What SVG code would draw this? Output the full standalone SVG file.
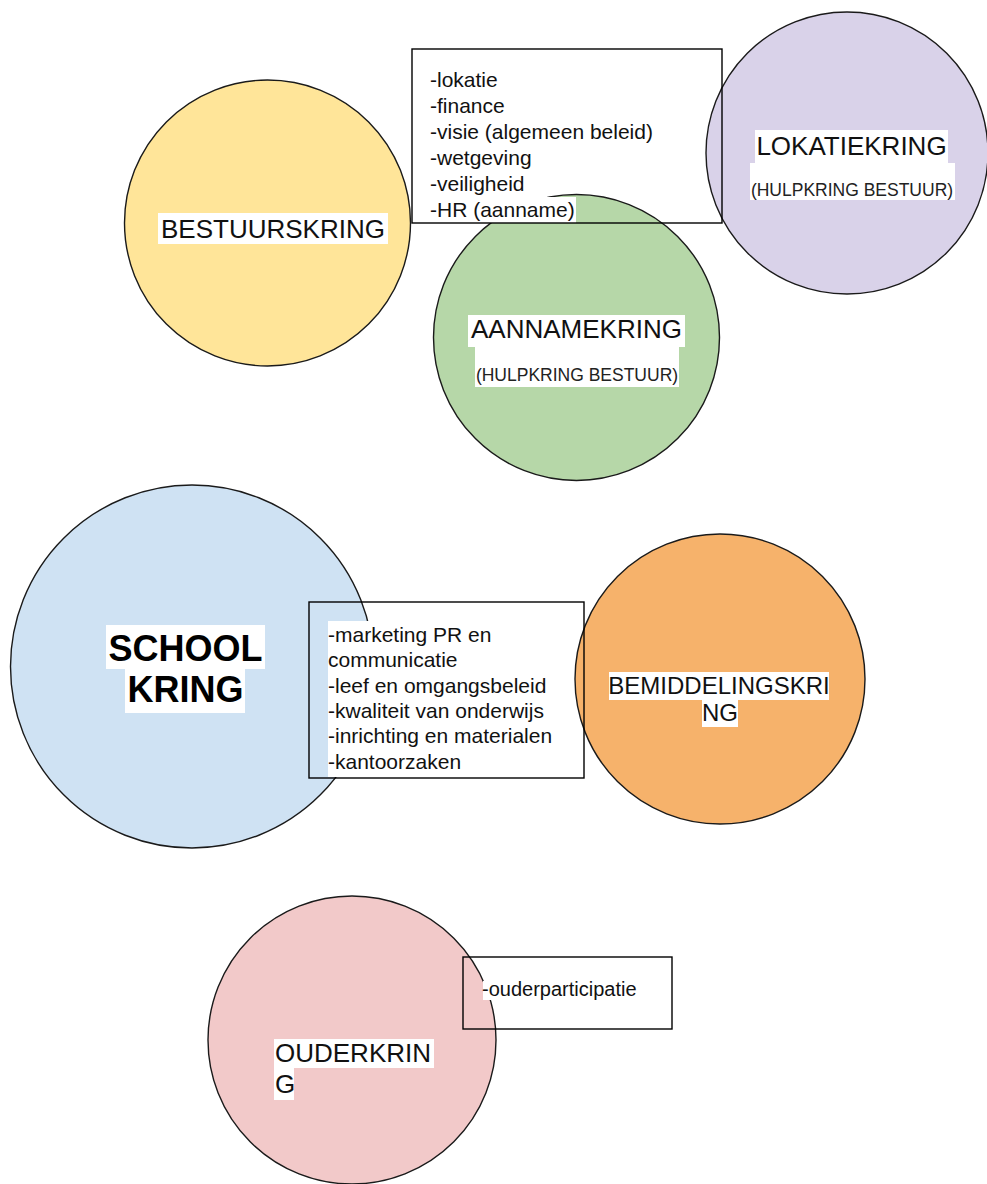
<svg xmlns="http://www.w3.org/2000/svg" width="987" height="1184" viewBox="0 0 987 1184">
<style>
  .c { stroke: #1a1a1a; stroke-width: 1.4; }
  .box { fill: none; stroke: #000; stroke-width: 1.4; }
  .hl { fill: #fff; }
  .lbl { font-family: "Liberation Sans", Arial, sans-serif; font-size: 26px; fill: #111; }
  .sub { font-family: "Liberation Sans", Arial, sans-serif; font-size: 17.5px; fill: #222; }
  .lst { font-family: "Liberation Sans", Arial, sans-serif; font-size: 21px; fill: #111; }
  .bold { font-family: "Liberation Sans", Arial, sans-serif; font-size: 36px; font-weight: bold; fill: #000; }
</style>
<rect width="987" height="1184" fill="#fff"/>

<g id="bestuurskring">
  <circle class="c" cx="267.5" cy="223" r="143" fill="#ffe599"/>
  <rect class="hl" x="158" y="213" width="230" height="31"/>
  <text class="lbl" x="273" y="238" text-anchor="middle">BESTUURSKRING</text>
</g>

<g id="lokatiekring">
  <circle class="c" cx="847" cy="153" r="141" fill="#d9d2e9"/>
  <rect class="hl" x="755" y="130" width="193" height="33"/>
  <rect class="hl" x="750" y="163" width="205" height="37"/>
  <text class="lbl" x="851.5" y="155" text-anchor="middle">LOKATIEKRING</text>
  <text class="sub" x="852" y="196" text-anchor="middle">(HULPKRING BESTUUR)</text>
</g>

<g id="aannamekring">
  <circle class="c" cx="576.5" cy="337.5" r="143" fill="#b6d7a8"/>
  <rect class="hl" x="468" y="315" width="217" height="32"/>
  <rect class="hl" x="475" y="347" width="204" height="40"/>
  <text class="lbl" x="576.5" y="338" text-anchor="middle">AANNAMEKRING</text>
  <text class="sub" x="577" y="381" text-anchor="middle">(HULPKRING BESTUUR)</text>
</g>

<g id="schoolkring">
  <circle class="c" cx="192" cy="666.5" r="181.5" fill="#cfe2f3"/>
  <rect class="hl" x="106" y="625" width="159" height="44"/>
  <rect class="hl" x="125" y="669" width="120" height="44"/>
  <text class="bold" x="185.5" y="661" text-anchor="middle">SCHOOL</text>
  <text class="bold" x="185.5" y="702" text-anchor="middle">KRING</text>
</g>

<g id="bemiddelingskring">
  <circle class="c" cx="720" cy="679" r="145" fill="#f6b26b"/>
  <rect class="hl" x="609" y="672" width="220" height="28"/>
  <rect class="hl" x="702" y="700" width="36" height="27"/>
  <text class="lbl" x="719" y="694" text-anchor="middle" style="font-size:24px">BEMIDDELINGSKRI</text>
  <text class="lbl" x="720" y="721" text-anchor="middle" style="font-size:24px">NG</text>
</g>

<g id="ouderkring">
  <circle class="c" cx="352" cy="1040" r="144" fill="#f2c9c9"/>
  <rect class="hl" x="274" y="1039" width="160" height="29"/>
  <rect class="hl" x="274" y="1068" width="20" height="32"/>
  <text class="lbl" x="275" y="1062">OUDERKRIN</text>
  <text class="lbl" x="275" y="1093">G</text>
</g>

<g id="box-bestuur">
  <rect class="hl" x="428" y="197" width="148" height="26"/>
  <rect class="box" x="412" y="49" width="310" height="174"/>
  <text class="lst" x="430" y="87">-lokatie</text>
  <text class="lst" x="430" y="113">-finance</text>
  <text class="lst" x="430" y="139">-visie (algemeen beleid)</text>
  <text class="lst" x="430" y="165">-wetgeving</text>
  <text class="lst" x="430" y="191">-veiligheid</text>
  <text class="lst" x="430" y="217">-HR (aanname)</text>
</g>

<g id="box-school">
  <rect class="hl" x="328" y="621" width="165" height="26"/>
  <rect class="hl" x="328" y="646" width="131" height="26"/>
  <rect class="hl" x="328" y="672" width="221" height="26"/>
  <rect class="hl" x="328" y="697" width="220" height="26"/>
  <rect class="hl" x="328" y="722" width="227" height="26"/>
  <rect class="hl" x="328" y="748" width="135" height="29"/>
  <rect class="box" x="309" y="602" width="275" height="176"/>
  <text class="lst" x="328" y="642">-marketing PR en</text>
  <text class="lst" x="328" y="667">communicatie</text>
  <text class="lst" x="328" y="693">-leef en omgangsbeleid</text>
  <text class="lst" x="328" y="718">-kwaliteit van onderwijs</text>
  <text class="lst" x="328" y="743">-inrichting en materialen</text>
  <text class="lst" x="328" y="769">-kantoorzaken</text>
</g>

<g id="box-ouder">
  <rect class="hl" x="483" y="981" width="162" height="19"/>
  <rect class="box" x="463" y="957" width="209" height="72"/>
  <text class="lst" x="482" y="996" style="font-size:20px">-ouderparticipatie</text>
</g>

<g id="connectors"></g>
</svg>
